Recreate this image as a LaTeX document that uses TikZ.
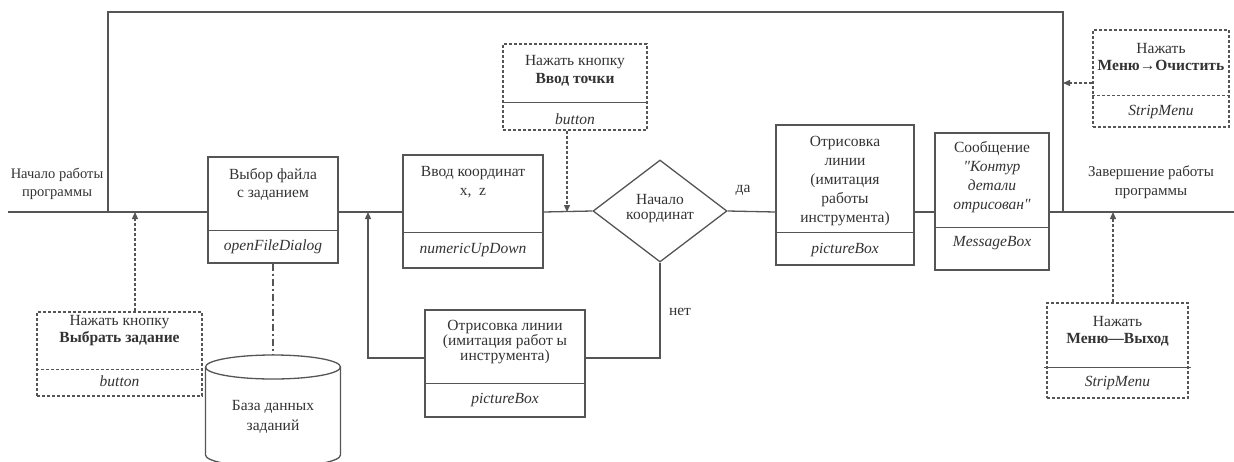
\documentclass[tikz,border=0pt]{standalone}
\usepackage{fontspec}
\setmainfont{Liberation Serif}
\usetikzlibrary{positioning,arrows.meta,shapes.geometric}
\definecolor{lngray}{HTML}{555555}
\definecolor{txgray}{HTML}{333333}
\tikzset{
  blk/.style={draw=lngray, line width=1.3pt, inner sep=0pt},
  btnbox/.style={draw=lngray, line width=1.3pt, dash pattern=on 3pt off 2pt, inner sep=0pt},
  dsh/.style={dash pattern=on 3pt off 2pt},
  txt/.style={text=txgray, align=center, inner sep=0pt, font=\fontsize{15.5}{15}\selectfont},
  tall/.style={txt, font=\fontsize{15.5}{19}\selectfont},
  cls/.style={txt, font=\fontsize{15.5}{15}\selectfont\itshape},
}

\begin{document}
\begin{tikzpicture}[x=1pt,y=-1pt,line width=1.3pt,draw=lngray,>={Triangle[length=7pt,width=6pt]}]
\useasboundingbox (0,0) rectangle (1234,461);
% main line and junctions
\coordinate (m0) at (8,212);
\coordinate (mE) at (1234,212);
\coordinate (j0) at (108,212);
\coordinate (j1) at (368,212);
\coordinate (j2) at (1063,212);
\coordinate (top) at (0,12);
\coordinate (bk) at (0,358);

\node[txt, font=\fontsize{14.5}{18}\selectfont] (start) at (57,184) {Начало работы\\программы};
\node[txt, font=\fontsize{15}{19}\selectfont] (finish) at (1151,182) {Завершение работы\\программы};

% file selection
\node[blk, minimum width=130, minimum height=106] (file) at (273,210) {};
\node[txt, font=\fontsize{15.5}{18}\selectfont] (file-t) at (273,184) {Выбор файла\\с заданием};
\draw ([yshift=33pt]file.south west) -- ([yshift=33pt]file.south east);
\node[cls] (file-c) at (273,247) {openFileDialog};

% coordinates input
\node[blk, minimum width=140, minimum height=113] (inp) at (473,211.5) {};
\node[txt, font=\fontsize{15.5}{19}\selectfont] (inp-t) at (473,182) {Ввод координат\\x,\ \ z};
\draw ([yshift=36pt]inp.south west) -- ([yshift=36pt]inp.south east);
\node[cls] (inp-c) at (473,250) {numericUpDown};

% decision
\node[diamond, draw=lngray, line width=1.3pt, minimum width=134, minimum height=102, inner sep=0pt] (dec) at (660,211) {};
\node[txt] (dec-t) at (660,209) {Начало\\координат};
\node[txt] (yes) at (743,190) {да};
\node[txt] (no) at (680,312) {нет};

% line drawing
\node[blk, minimum width=138, minimum height=140] (draw1) at (845,195) {};
\node[tall] (draw1-t) at (845,181) {Отрисовка\\линии\\(имитация\\работы\\инструмента)};
\draw ([yshift=33pt]draw1.south west) -- ([yshift=33pt]draw1.south east);
\node[cls] (draw1-c) at (845,250) {pictureBox};

% message
\node[blk, minimum width=114, minimum height=137] (msg) at (992,201.5) {};
\node[tall] (msg-t) at (992,177) {Сообщение\\\textit{″Контур}\\\textit{детали}\\\textit{отрисован″}};
\draw ([yshift=43pt]msg.south west) -- ([yshift=43pt]msg.south east);
\node[cls] (msg-c) at (992,243) {MessageBox};

% lower drawing (loop back)
\node[blk, minimum width=160, minimum height=107] (redraw) at (505,363.5) {};
\node[txt] (redraw-t) at (505,342) {Отрисовка линии\\(имитация работ ы\\инструмента)};
\draw ([yshift=34pt]redraw.south west) -- ([yshift=34pt]redraw.south east);
\node[cls] (redraw-c) at (505,400) {pictureBox};

% database
\coordinate (db-top) at (273,355);
\draw (205.5,367) -- (205.5,455) arc[start angle=180,end angle=0,x radius=67.5,y radius=12] -- (340.5,367);
\draw (273,367) ellipse [x radius=67.5,y radius=12];
\node[txt, font=\fontsize{15.5}{20}\selectfont] (db) at (273,417) {База данных\\заданий};

% buttons
\node[btnbox, minimum width=165, minimum height=84] (btn1) at (119.5,354) {};
\node[txt, font=\fontsize{15.5}{17}\selectfont] (btn1-t) at (119.5,330.5) {Нажать кнопку\\\textbf{Выбрать задание}};
\draw[dsh] ([yshift=27pt]btn1.south west) -- ([yshift=27pt]btn1.south east);
\node[cls] (btn1-c) at (119.5,381) {button};

\node[btnbox, minimum width=144, minimum height=86] (btn2) at (575,87) {};
\node[txt, font=\fontsize{15.5}{18}\selectfont] (btn2-t) at (575,71) {Нажать кнопку\\\textbf{Ввод точки}};
\draw ([yshift=28pt]btn2.south west) -- ([yshift=28pt]btn2.south east);
\node[cls] (btn2-c) at (575,119) {button};

\node[btnbox, minimum width=136, minimum height=97] (clr) at (1161,78.5) {};
\node[txt, font=\fontsize{15.5}{17}\selectfont] (clr-t) at (1161,56.5) {Нажать\\\textbf{Меню→Очистить}};
\draw[dsh] ([yshift=32pt]clr.south west) -- ([yshift=32pt]clr.south east);
\node[cls] (clr-c) at (1161,112) {StripMenu};

\node[btnbox, minimum width=141, minimum height=95] (exit) at (1117.5,350.5) {};
\node[txt, font=\fontsize{15.5}{17}\selectfont] (exit-t) at (1117.5,331) {Нажать\\\textbf{Меню—Выход}};
\draw ([xshift=-2pt,yshift=31pt]exit.south west) -- ([xshift=2pt,yshift=31pt]exit.south east);
\node[cls] (exit-c) at (1117.5,383) {StripMenu};

% connectors along main line
\draw (m0) -- (m0 -| file.west);
\draw (m0 -| file.east) -- (m0 -| inp.west);
\draw (m0 -| inp.east) -- (dec.west);
\draw (dec.east) -- (m0 -| draw1.west);
\draw (m0 -| draw1.east) -- (m0 -| msg.west);
\draw (m0 -| msg.east) -- (mE);
% return to start
\draw (j0) |- (top -| j2) -- (j2);
% branch "нет"
\draw (dec.south) |- (bk -| redraw.east);
\draw[->] (bk -| redraw.west) -| (j1);
% database link
\draw[dash pattern=on 7pt off 3pt on 2pt off 3pt] (file.south -| db-top) -- (db-top);
% events
\coordinate (a1) at (135,212);
\coordinate (a2) at (567,212);
\coordinate (a3) at (1113,212);
\coordinate (a4) at (1063,83);
\draw[dsh,->] (a1 |- btn1.north) -- (a1);
\draw[dsh,->] (a2 |- btn2.south) -- (a2);
\draw[dsh,->] (a3 |- exit.north) -- (a3);
\draw[dsh,->] (a4 -| clr.west) -- (a4);
\end{tikzpicture}
\end{document}
